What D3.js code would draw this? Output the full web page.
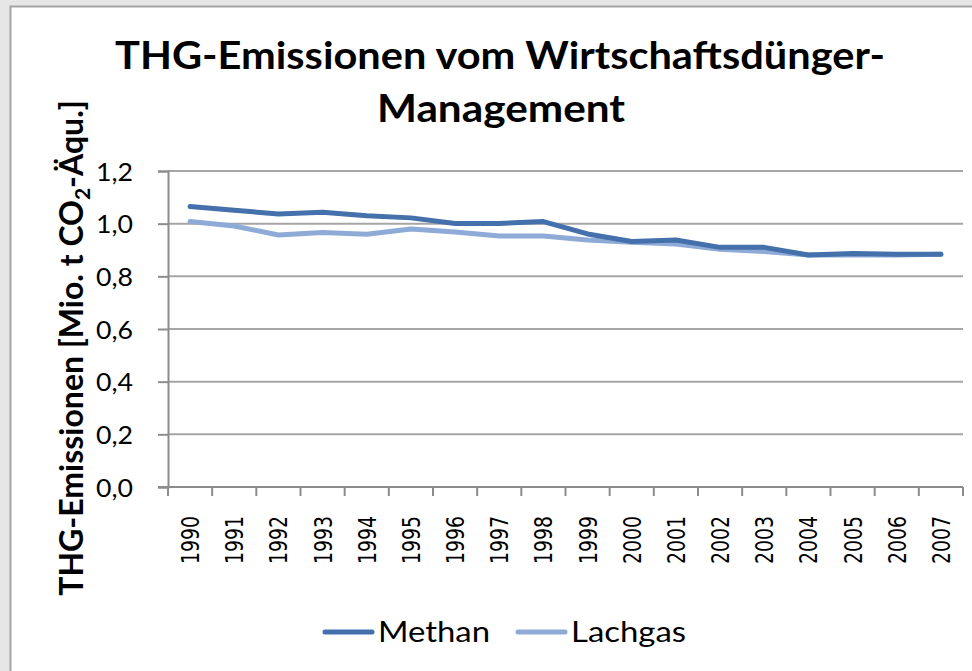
<!DOCTYPE html>
<html lang="de">
<head>
    <meta charset="UTF-8">
    <title>THG-Emissionen Wirtschaftsdünger</title>
    <script src="https://cdnjs.cloudflare.com/ajax/libs/d3/7.8.5/d3.min.js"></script>
    <style>
        body { margin: 0; background: #e6e6e6; }
    </style>
</head>
<body>

<div id="chart_holder"></div>

<script>
    var years = ["1990", "1991", "1992", "1993", "1994", "1995", "1996", "1997", "1998",
                 "1999", "2000", "2001", "2002", "2003", "2004", "2005", "2006", "2007"];
    var methan = [1.065, 1.051, 1.037, 1.043, 1.030, 1.022, 1.001, 1.001, 1.008,
                  0.961, 0.932, 0.938, 0.910, 0.910, 0.881, 0.887, 0.884, 0.884];
    var lachgas = [1.008, 0.991, 0.957, 0.966, 0.960, 0.980, 0.968, 0.953, 0.953,
                   0.938, 0.929, 0.923, 0.903, 0.894, 0.881, 0.881, 0.881, 0.884];
    var yTicks = [0, 0.2, 0.4, 0.6, 0.8, 1.0, 1.2];
    var seriesNames = ["Methan", "Lachgas"];
    var seriesColors = ["#4470ab", "#8eaad6"];

    var width = 972;
    var height = 671;
    var calibri = "Lato, 'Open Sans', sans-serif";

    var svg = d3.select("#chart_holder")
        .append("svg")
        .attr("width", width)
        .attr("height", height)
        .style("display", "block");

    svg.append("rect")
        .attr("width", width)
        .attr("height", height)
        .attr("fill", "#e6e6e6");

    // chart area, runs off the right and bottom edge
    svg.append("rect")
        .attr("x", 10.5)
        .attr("y", 6.5)
        .attr("width", width + 20)
        .attr("height", height + 20)
        .attr("fill", "#ffffff")
        .attr("stroke", "#a3a3a3")
        .attr("stroke-width", 2);

    // squeeze a plain text to a given width
    function fit(sel, w) {
        sel.attr("textLength", w).attr("lengthAdjust", "spacingAndGlyphs");
        return sel;
    }

    fit(svg.append("text")
        .attr("x", 500)
        .attr("y", 69)
        .attr("text-anchor", "middle")
        .attr("font-family", calibri)
        .attr("font-weight", "bold")
        .attr("font-size", 38)
        .text("THG-Emissionen vom Wirtschaftsdünger-"), 770);

    fit(svg.append("text")
        .attr("x", 501)
        .attr("y", 122)
        .attr("text-anchor", "middle")
        .attr("font-family", calibri)
        .attr("font-weight", "bold")
        .attr("font-size", 38)
        .text("Management"), 248);

    var plotLeft = 168, plotRight = 963, plotTop = 171, plotBottom = 487;

    var x = d3.scaleBand()
        .domain(years)
        .range([plotLeft, plotRight]);

    var y = d3.scaleLinear()
        .domain([0, 1.2])
        .range([plotBottom, plotTop]);

    // gridlines
    svg.append("g")
        .selectAll("line")
        .data(yTicks.slice(1))
        .enter()
        .append("line")
        .attr("x1", plotLeft)
        .attr("x2", plotRight)
        .attr("y1", function(d) { return y(d); })
        .attr("y2", function(d) { return y(d); })
        .attr("stroke", "#a6a6a6")
        .attr("stroke-width", 2);

    var yAxis = svg.append("g")
        .attr("transform", "translate(" + plotLeft + ",0)")
        .call(d3.axisLeft(y)
            .tickValues(yTicks)
            .tickSize(10)
            .tickPadding(25)
            .tickFormat(function(d) { return d.toFixed(1).replace(".", ","); }));

    yAxis.select(".domain").attr("stroke", "#8c8c8c").attr("stroke-width", 2);
    yAxis.selectAll(".tick line").attr("stroke", "#8c8c8c").attr("stroke-width", 2);
    yAxis.selectAll(".tick text")
        .attr("font-family", calibri)
        .attr("font-size", 25)
        .attr("fill", "#000")
        .attr("dy", "0.36em")
        .attr("textLength", 37)
        .attr("lengthAdjust", "spacingAndGlyphs");

    // category ticks sit on the band edges
    var edges = years.map(function(d) { return x(d); }).concat([plotRight]);

    svg.append("g")
        .selectAll("line")
        .data(edges)
        .enter()
        .append("line")
        .attr("x1", function(d) { return d; })
        .attr("x2", function(d) { return d; })
        .attr("y1", plotBottom)
        .attr("y2", plotBottom + 9)
        .attr("stroke", "#8c8c8c")
        .attr("stroke-width", 2);

    svg.append("line")
        .attr("x1", plotLeft - 10)
        .attr("x2", plotRight)
        .attr("y1", plotBottom)
        .attr("y2", plotBottom)
        .attr("stroke", "#8c8c8c")
        .attr("stroke-width", 2);

    // year labels: glyphs are stretched across in the original
    svg.append("g")
        .selectAll("text")
        .data(years)
        .enter()
        .append("text")
        .attr("transform", function(d) {
            return "translate(" + (x(d) + x.bandwidth() / 2 + 9) + "," + 516 + ") rotate(-90) scale(1,1.3)";
        })
        .attr("text-anchor", "end")
        .attr("font-family", "'DejaVu Sans', sans-serif")
        .attr("font-size", 19)
        .attr("textLength", 48)
        .attr("lengthAdjust", "spacingAndGlyphs")
        .text(function(d) { return d; });

    // y axis title with subscript
    var yTitle = svg.append("text")
        .attr("transform", "translate(83,348) rotate(-90)")
        .attr("text-anchor", "middle")
        .attr("font-family", calibri)
        .attr("font-weight", "bold")
        .attr("font-size", 32);
    yTitle.append("tspan").text("THG-Emissionen [Mio. t CO");
    yTitle.append("tspan").attr("font-size", 21).attr("dy", 7).text("2");
    yTitle.append("tspan").attr("dy", -7).text("-Äqu.]");

    var line = d3.line()
        .x(function(d, i) { return x(years[i]) + x.bandwidth() / 2; })
        .y(function(d) { return y(d); });

    var series = [lachgas, methan];
    var seriesCol = [seriesColors[1], seriesColors[0]];

    svg.append("g")
        .selectAll("path")
        .data(series)
        .enter()
        .append("path")
        .attr("d", line)
        .attr("fill", "none")
        .attr("stroke", function(d, i) { return seriesCol[i]; })
        .attr("stroke-width", 5)
        .attr("stroke-linejoin", "round")
        .attr("stroke-linecap", "round");

    // legend
    var legendX = [325, 518];
    var legendW = [112, 115];
    var legend = svg.append("g")
        .selectAll("g")
        .data(seriesNames)
        .enter()
        .append("g")
        .attr("transform", function(d, i) { return "translate(" + legendX[i] + ",632)"; });

    legend.append("line")
        .attr("x1", 0)
        .attr("x2", 47)
        .attr("stroke", function(d, i) { return seriesColors[i]; })
        .attr("stroke-width", 5)
        .attr("stroke-linecap", "round");

    legend.append("text")
        .attr("x", 53)
        .attr("y", 10)
        .attr("font-family", calibri)
        .attr("font-size", 29)
        .attr("textLength", function(d, i) { return legendW[i]; })
        .attr("lengthAdjust", "spacingAndGlyphs")
        .text(function(d) { return d; });
</script>

</body>
</html>
